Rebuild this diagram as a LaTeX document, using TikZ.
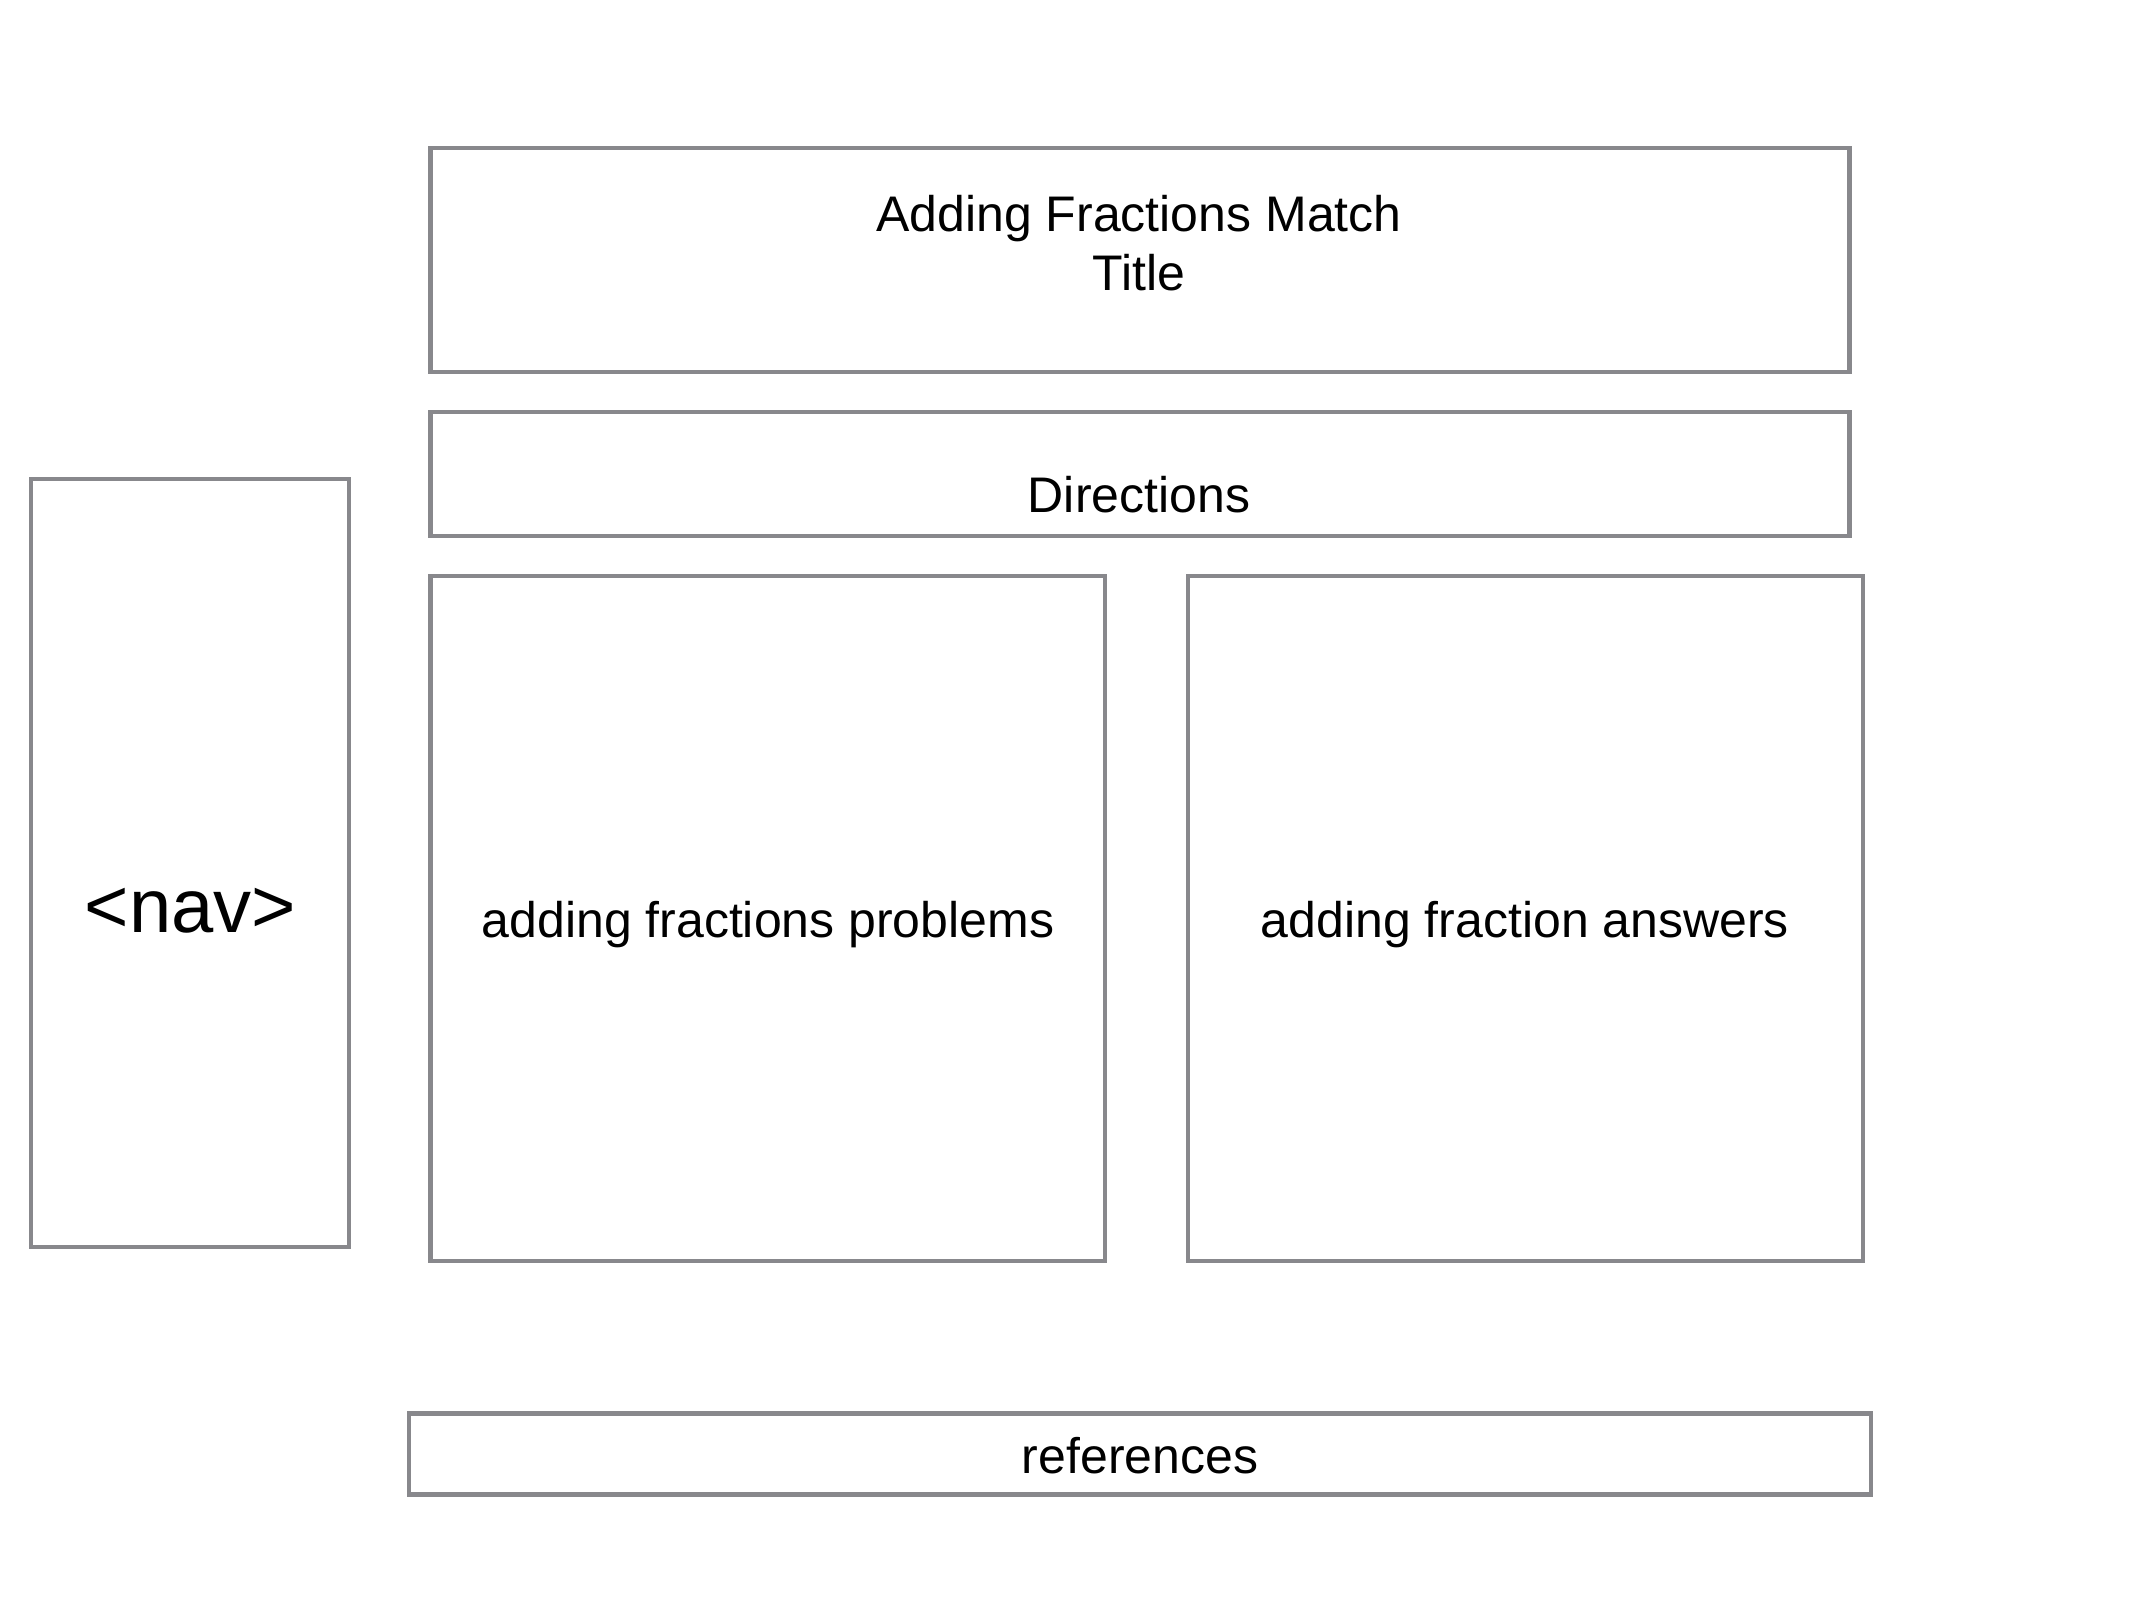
\documentclass[tikz,border=0pt]{standalone}
\usepackage{fontspec}
\setmainfont{Liberation Sans}
\usetikzlibrary{fit}
\definecolor{boxgray}{HTML}{88888C}
\tikzset{
  box/.style={draw=boxgray, line width=2.1pt, inner sep=0pt, outer sep=0pt, rectangle},
  txt/.style={inner sep=0pt, anchor=base, text=black, font=\fontsize{25pt}{30pt}\selectfont},
  bigtxt/.style={inner sep=0pt, anchor=base, text=black, font=\fontsize{38pt}{45pt}\selectfont}
}
\begin{document}
\begin{tikzpicture}[x=0.5pt, y=-0.5pt]
\useasboundingbox[fill=white] (0,0) rectangle (2133,1600);
% boxes
\node[box, fit={(430.5,148) (1849.5,372)}] (title) {};
\node[box, fit={(430.5,412) (1849.5,536)}] (directions) {};
\node[box, fit={(31,479) (349,1247)}] (nav) {};
\node[box, fit={(430.5,576) (1105,1261)}] (problems) {};
\node[box, fit={(1188,576) (1863,1261)}] (answers) {};
\node[box, fit={(409,1413.5) (1871,1494.5)}] (references) {};
% texts
\node[txt] (titleline1) at (1139,231) {Adding Fractions Match};
\node[txt] (titleline2) at (1139,291) {Title};
\node[txt] (directionstext) at (1139,512.7) {Directions};
\node[bigtxt] (navtext) at (190.5,932) {<nav>};
\node[txt] (problemstext) at (768,937) {adding fractions problems};
\node[txt] (answerstext) at (1525,937) {adding fraction answers};
\node[txt] (referencestext) at (1140,1473) {references};
\end{tikzpicture}
\end{document}
